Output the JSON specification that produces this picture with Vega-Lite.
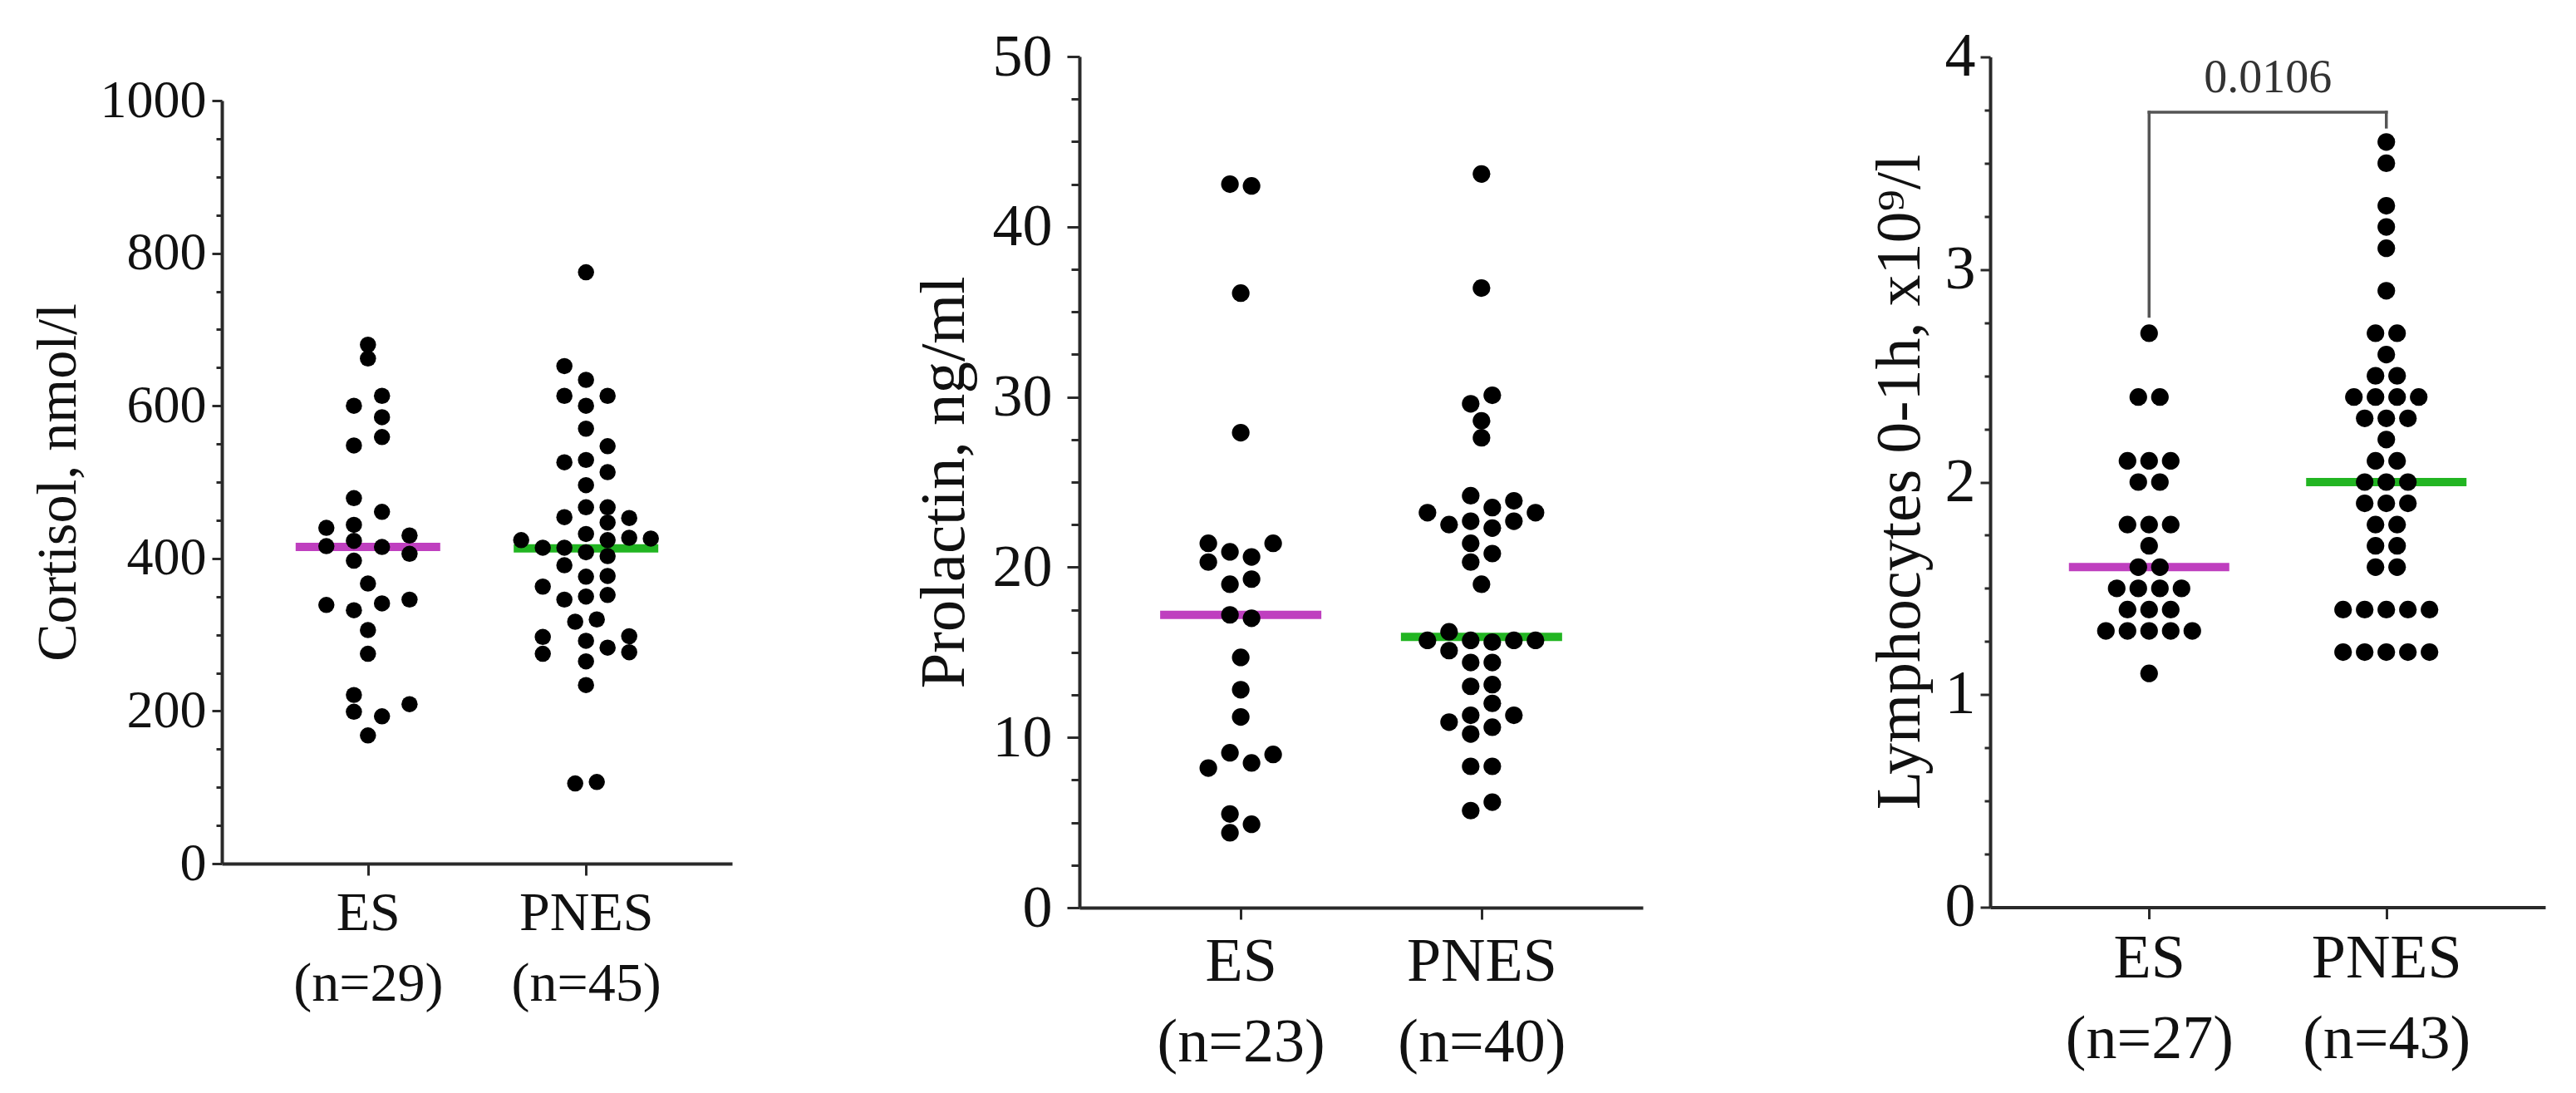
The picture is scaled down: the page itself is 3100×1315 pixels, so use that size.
{
  "$schema": "https://vega.github.io/schema/vega-lite/v6.json",
  "background": "white",
  "padding": {"left": 36, "top": 31, "right": 10, "bottom": 10},
  "autosize": {"type": "pad"},
  "bounds": "flush",
  "center": true,
  "spacing": 418,
  "config": {
    "view": {"stroke": null},
    "font": "Liberation Serif",
    "axis": {
      "domainColor": "#2a2a2a", "domainWidth": 4, "tickColor": "#2a2a2a", "tickWidth": 3,
      "labelColor": "#111111", "titleColor": "#111111", "labelFont": "Liberation Serif", "titleFont": "Liberation Serif",
      "titleFontWeight": "normal", "grid": false, "labelOverlap": false, "labelFlush": false, "labelLimit": 0
    }
  },
  "datasets": {
    "cortisol": [
      {"g": "ES", "v": 680, "slot": 0}, {"g": "ES", "v": 662, "slot": 0}, {"g": "ES", "v": 613, "slot": 1.3},
      {"g": "ES", "v": 600, "slot": -1.3}, {"g": "ES", "v": 585, "slot": 1.3}, {"g": "ES", "v": 559, "slot": 1.3},
      {"g": "ES", "v": 548, "slot": -1.3}, {"g": "ES", "v": 479, "slot": -1.3}, {"g": "ES", "v": 461, "slot": 1.3},
      {"g": "ES", "v": 440, "slot": -3.85}, {"g": "ES", "v": 444, "slot": -1.3}, {"g": "ES", "v": 416, "slot": -3.85},
      {"g": "ES", "v": 423, "slot": -1.3}, {"g": "ES", "v": 397, "slot": -1.3}, {"g": "ES", "v": 415, "slot": 1.3},
      {"g": "ES", "v": 430, "slot": 3.85}, {"g": "ES", "v": 406, "slot": 3.85}, {"g": "ES", "v": 367, "slot": 0},
      {"g": "ES", "v": 339, "slot": -3.85}, {"g": "ES", "v": 332, "slot": -1.3}, {"g": "ES", "v": 341, "slot": 1.3},
      {"g": "ES", "v": 346, "slot": 3.85}, {"g": "ES", "v": 306, "slot": 0}, {"g": "ES", "v": 275, "slot": 0},
      {"g": "ES", "v": 221, "slot": -1.3}, {"g": "ES", "v": 199, "slot": -1.3}, {"g": "ES", "v": 193, "slot": 1.3},
      {"g": "ES", "v": 209, "slot": 3.85}, {"g": "ES", "v": 168, "slot": 0},
      {"g": "PNES", "v": 775, "slot": 0}, {"g": "PNES", "v": 652, "slot": -2}, {"g": "PNES", "v": 634, "slot": 0},
      {"g": "PNES", "v": 613, "slot": -2}, {"g": "PNES", "v": 613, "slot": 2}, {"g": "PNES", "v": 600, "slot": 0},
      {"g": "PNES", "v": 570, "slot": 0}, {"g": "PNES", "v": 547, "slot": 2}, {"g": "PNES", "v": 526, "slot": -2},
      {"g": "PNES", "v": 529, "slot": 0}, {"g": "PNES", "v": 513, "slot": 2}, {"g": "PNES", "v": 496, "slot": 0},
      {"g": "PNES", "v": 467, "slot": 0}, {"g": "PNES", "v": 467, "slot": 2}, {"g": "PNES", "v": 447, "slot": 2},
      {"g": "PNES", "v": 454, "slot": -2}, {"g": "PNES", "v": 453, "slot": 4}, {"g": "PNES", "v": 432, "slot": 0},
      {"g": "PNES", "v": 424, "slot": 2}, {"g": "PNES", "v": 427, "slot": 4}, {"g": "PNES", "v": 426, "slot": 6},
      {"g": "PNES", "v": 424, "slot": -6}, {"g": "PNES", "v": 414, "slot": -4}, {"g": "PNES", "v": 414, "slot": -2},
      {"g": "PNES", "v": 408, "slot": 0}, {"g": "PNES", "v": 403, "slot": 2}, {"g": "PNES", "v": 391, "slot": -2},
      {"g": "PNES", "v": 377, "slot": 2}, {"g": "PNES", "v": 376, "slot": 0}, {"g": "PNES", "v": 363, "slot": -4},
      {"g": "PNES", "v": 346, "slot": -2}, {"g": "PNES", "v": 350, "slot": 0}, {"g": "PNES", "v": 352, "slot": 2},
      {"g": "PNES", "v": 317, "slot": -1}, {"g": "PNES", "v": 320, "slot": 1}, {"g": "PNES", "v": 297, "slot": -4},
      {"g": "PNES", "v": 275, "slot": -4}, {"g": "PNES", "v": 292, "slot": 0}, {"g": "PNES", "v": 283, "slot": 2},
      {"g": "PNES", "v": 298, "slot": 4}, {"g": "PNES", "v": 277, "slot": 4}, {"g": "PNES", "v": 265, "slot": 0},
      {"g": "PNES", "v": 234, "slot": 0}, {"g": "PNES", "v": 105, "slot": -1}, {"g": "PNES", "v": 107, "slot": 1}
    ],
    "cortisolMed": [{"g": "ES", "v": 415}, {"g": "PNES", "v": 413}],
    "prolactin": [
      {"g": "ES", "v": 42.5, "slot": -1}, {"g": "ES", "v": 42.4, "slot": 1}, {"g": "ES", "v": 36.1, "slot": 0},
      {"g": "ES", "v": 27.9, "slot": 0}, {"g": "ES", "v": 21.4, "slot": -3}, {"g": "ES", "v": 20.3, "slot": -3},
      {"g": "ES", "v": 20.9, "slot": -1}, {"g": "ES", "v": 20.6, "slot": 1}, {"g": "ES", "v": 21.4, "slot": 3},
      {"g": "ES", "v": 19.0, "slot": -1}, {"g": "ES", "v": 19.3, "slot": 1}, {"g": "ES", "v": 17.2, "slot": -1},
      {"g": "ES", "v": 17.0, "slot": 1}, {"g": "ES", "v": 14.7, "slot": 0}, {"g": "ES", "v": 12.8, "slot": 0},
      {"g": "ES", "v": 11.2, "slot": 0}, {"g": "ES", "v": 9.1, "slot": -1}, {"g": "ES", "v": 9.0, "slot": 3},
      {"g": "ES", "v": 8.2, "slot": -3}, {"g": "ES", "v": 8.5, "slot": 1}, {"g": "ES", "v": 5.5, "slot": -1},
      {"g": "ES", "v": 4.4, "slot": -1}, {"g": "ES", "v": 4.9, "slot": 1},
      {"g": "PNES", "v": 43.1, "slot": 0}, {"g": "PNES", "v": 36.4, "slot": 0}, {"g": "PNES", "v": 29.6, "slot": -1},
      {"g": "PNES", "v": 30.1, "slot": 1}, {"g": "PNES", "v": 28.6, "slot": 0}, {"g": "PNES", "v": 27.6, "slot": 0},
      {"g": "PNES", "v": 23.2, "slot": -5}, {"g": "PNES", "v": 22.5, "slot": -3}, {"g": "PNES", "v": 24.2, "slot": -1},
      {"g": "PNES", "v": 22.7, "slot": -1}, {"g": "PNES", "v": 21.4, "slot": -1}, {"g": "PNES", "v": 20.3, "slot": -1},
      {"g": "PNES", "v": 23.5, "slot": 1}, {"g": "PNES", "v": 22.3, "slot": 1}, {"g": "PNES", "v": 20.8, "slot": 1},
      {"g": "PNES", "v": 23.9, "slot": 3}, {"g": "PNES", "v": 22.7, "slot": 3}, {"g": "PNES", "v": 23.2, "slot": 5},
      {"g": "PNES", "v": 19.0, "slot": 0}, {"g": "PNES", "v": 15.7, "slot": -5}, {"g": "PNES", "v": 16.2, "slot": -3},
      {"g": "PNES", "v": 15.7, "slot": -1}, {"g": "PNES", "v": 15.6, "slot": 1}, {"g": "PNES", "v": 15.7, "slot": 3},
      {"g": "PNES", "v": 15.7, "slot": 5}, {"g": "PNES", "v": 15.1, "slot": -3}, {"g": "PNES", "v": 14.4, "slot": -1},
      {"g": "PNES", "v": 14.4, "slot": 1}, {"g": "PNES", "v": 13.0, "slot": -1}, {"g": "PNES", "v": 13.1, "slot": 1},
      {"g": "PNES", "v": 11.3, "slot": -1}, {"g": "PNES", "v": 12.0, "slot": 1}, {"g": "PNES", "v": 10.9, "slot": -3},
      {"g": "PNES", "v": 11.3, "slot": 3}, {"g": "PNES", "v": 10.2, "slot": -1}, {"g": "PNES", "v": 10.6, "slot": 1},
      {"g": "PNES", "v": 8.3, "slot": -1}, {"g": "PNES", "v": 8.3, "slot": 1}, {"g": "PNES", "v": 5.7, "slot": -1},
      {"g": "PNES", "v": 6.2, "slot": 1}
    ],
    "prolactinMed": [{"g": "ES", "v": 17.2}, {"g": "PNES", "v": 15.9}],
    "lymph": [
      {"g": "ES", "v": 2.7, "slot": 0},
      {"g": "ES", "v": 2.4, "slot": -1}, {"g": "ES", "v": 2.4, "slot": 1},
      {"g": "ES", "v": 2.1, "slot": -2}, {"g": "ES", "v": 2.1, "slot": 0}, {"g": "ES", "v": 2.1, "slot": 2},
      {"g": "ES", "v": 2.0, "slot": -1}, {"g": "ES", "v": 2.0, "slot": 1},
      {"g": "ES", "v": 1.8, "slot": -2}, {"g": "ES", "v": 1.8, "slot": 0}, {"g": "ES", "v": 1.8, "slot": 2},
      {"g": "ES", "v": 1.7, "slot": 0},
      {"g": "ES", "v": 1.6, "slot": -1}, {"g": "ES", "v": 1.6, "slot": 1},
      {"g": "ES", "v": 1.5, "slot": -3}, {"g": "ES", "v": 1.5, "slot": -1}, {"g": "ES", "v": 1.5, "slot": 1}, {"g": "ES", "v": 1.5, "slot": 3},
      {"g": "ES", "v": 1.4, "slot": -2}, {"g": "ES", "v": 1.4, "slot": 0}, {"g": "ES", "v": 1.4, "slot": 2},
      {"g": "ES", "v": 1.3, "slot": -4}, {"g": "ES", "v": 1.3, "slot": -2}, {"g": "ES", "v": 1.3, "slot": 0}, {"g": "ES", "v": 1.3, "slot": 2}, {"g": "ES", "v": 1.3, "slot": 4},
      {"g": "ES", "v": 1.1, "slot": 0},
      {"g": "PNES", "v": 3.6, "slot": 0}, {"g": "PNES", "v": 3.5, "slot": 0}, {"g": "PNES", "v": 3.3, "slot": 0},
      {"g": "PNES", "v": 3.2, "slot": 0}, {"g": "PNES", "v": 3.1, "slot": 0}, {"g": "PNES", "v": 2.9, "slot": 0},
      {"g": "PNES", "v": 2.7, "slot": -1}, {"g": "PNES", "v": 2.7, "slot": 1},
      {"g": "PNES", "v": 2.6, "slot": 0},
      {"g": "PNES", "v": 2.5, "slot": -1}, {"g": "PNES", "v": 2.5, "slot": 1},
      {"g": "PNES", "v": 2.4, "slot": -3}, {"g": "PNES", "v": 2.4, "slot": -1}, {"g": "PNES", "v": 2.4, "slot": 1}, {"g": "PNES", "v": 2.4, "slot": 3},
      {"g": "PNES", "v": 2.3, "slot": -2}, {"g": "PNES", "v": 2.3, "slot": 0}, {"g": "PNES", "v": 2.3, "slot": 2},
      {"g": "PNES", "v": 2.2, "slot": 0},
      {"g": "PNES", "v": 2.1, "slot": -1}, {"g": "PNES", "v": 2.1, "slot": 1},
      {"g": "PNES", "v": 2.0, "slot": -2}, {"g": "PNES", "v": 2.0, "slot": 0}, {"g": "PNES", "v": 2.0, "slot": 2},
      {"g": "PNES", "v": 1.9, "slot": -2}, {"g": "PNES", "v": 1.9, "slot": 0}, {"g": "PNES", "v": 1.9, "slot": 2},
      {"g": "PNES", "v": 1.8, "slot": -1}, {"g": "PNES", "v": 1.8, "slot": 1},
      {"g": "PNES", "v": 1.7, "slot": -1}, {"g": "PNES", "v": 1.7, "slot": 1},
      {"g": "PNES", "v": 1.6, "slot": -1}, {"g": "PNES", "v": 1.6, "slot": 1},
      {"g": "PNES", "v": 1.4, "slot": -4}, {"g": "PNES", "v": 1.4, "slot": -2}, {"g": "PNES", "v": 1.4, "slot": 0}, {"g": "PNES", "v": 1.4, "slot": 2}, {"g": "PNES", "v": 1.4, "slot": 4},
      {"g": "PNES", "v": 1.2, "slot": -4}, {"g": "PNES", "v": 1.2, "slot": -2}, {"g": "PNES", "v": 1.2, "slot": 0}, {"g": "PNES", "v": 1.2, "slot": 2}, {"g": "PNES", "v": 1.2, "slot": 4}
    ],
    "lymphMed": [{"g": "ES", "v": 1.6}, {"g": "PNES", "v": 2.0}],
    "bracket": [
      {"a": "ES", "b": "PNES", "y1": 3.74, "y2": 3.74},
      {"a": "ES", "b": "ES", "y1": 3.74, "y2": 2.78},
      {"a": "PNES", "b": "PNES", "y1": 3.74, "y2": 3.67}
    ],
    "pvalue": [{"g": "ES", "v": 3.9, "label": "0.0106"}]
  },
  "hconcat": [
    {
      "width": 614,
      "height": 918,
      "layer": [
        {
          "data": {"name": "cortisolMed"},
          "mark": {"type": "tick", "size": 174, "thickness": 10, "opacity": 1},
          "encoding": {
            "x": {"field": "g", "type": "nominal", "scale": {"type": "point", "domain": ["ES", "PNES"], "padding": 0.67},
                  "axis": {"title": null, "labelAngle": 0, "labelExpr": "datum.value === 'ES' ? ['ES', '(n=29)'] : ['PNES', '(n=45)']",
                           "labelFontSize": 66, "labelLineHeight": 85, "labelPadding": 13, "tickSize": 14}},
            "y": {"field": "v", "type": "quantitative", "scale": {"domain": [0, 1000], "nice": false},
                  "axis": {"title": "Cortisol, nmol/l", "values": [0,50,100,150,200,250,300,350,400,450,500,550,600,650,700,750,800,850,900,950,1000],
                           "labelExpr": "datum.value % 200 === 0 ? format(datum.value, 'd') : ''",
                           "tickSize": {"condition": {"test": "datum.value % 200 === 0", "value": 12}, "value": 7},
                           "labelFontSize": 64, "labelPadding": 7, "titleFontSize": 68, "titleX": -197, "titleY": 459, "titleBaseline": "middle", "titleAlign": "center"}},
            "color": {"field": "g", "type": "nominal", "scale": {"domain": ["ES", "PNES"], "range": ["#bf3fbf", "#22b522"]}, "legend": null}
          }
        },
        {
          "data": {"name": "cortisol"},
          "mark": {"type": "circle", "size": 380, "opacity": 1, "color": "#000000"},
          "encoding": {
            "x": {"field": "g", "type": "nominal"},
            "xOffset": {"field": "slot", "type": "quantitative", "scale": {"domain": [-10, 10], "range": [-130, 130]}},
            "y": {"field": "v", "type": "quantitative"}
          }
        }
      ]
    },
    {
      "width": 678,
      "height": 1024,
      "layer": [
        {
          "data": {"name": "prolactinMed"},
          "mark": {"type": "tick", "size": 194, "thickness": 10, "opacity": 1},
          "encoding": {
            "x": {"field": "g", "type": "nominal", "scale": {"type": "point", "domain": ["ES", "PNES"], "padding": 0.67},
                  "axis": {"title": null, "labelAngle": 0, "labelExpr": "datum.value === 'ES' ? ['ES', '(n=23)'] : ['PNES', '(n=40)']",
                           "labelFontSize": 74, "labelLineHeight": 97, "labelPadding": 15, "tickSize": 14}},
            "y": {"field": "v", "type": "quantitative", "scale": {"domain": [0, 50], "nice": false},
                  "axis": {"title": "Prolactin, ng/ml", "values": [0,2.5,5,7.5,10,12.5,15,17.5,20,22.5,25,27.5,30,32.5,35,37.5,40,42.5,45,47.5,50],
                           "labelExpr": "datum.value % 10 === 0 ? format(datum.value, 'd') : ''",
                           "tickSize": {"condition": {"test": "datum.value % 10 === 0", "value": 15}, "value": 10},
                           "labelFontSize": 72, "labelPadding": 18, "titleFontSize": 77, "titleX": -163, "titleY": 512, "titleBaseline": "middle", "titleAlign": "center"}},
            "color": {"field": "g", "type": "nominal", "scale": {"domain": ["ES", "PNES"], "range": ["#bf3fbf", "#22b522"]}, "legend": null}
          }
        },
        {
          "data": {"name": "prolactin"},
          "mark": {"type": "circle", "size": 450, "opacity": 1, "color": "#000000"},
          "encoding": {
            "x": {"field": "g", "type": "nominal"},
            "xOffset": {"field": "slot", "type": "quantitative", "scale": {"domain": [-10, 10], "range": [-180, 180]}},
            "y": {"field": "v", "type": "quantitative"}
          }
        }
      ]
    },
    {
      "width": 668,
      "height": 1023,
      "layer": [
        {
          "data": {"name": "lymphMed"},
          "mark": {"type": "tick", "size": 193, "thickness": 10, "opacity": 1},
          "encoding": {
            "x": {"field": "g", "type": "nominal", "scale": {"type": "point", "domain": ["ES", "PNES"], "padding": 0.67},
                  "axis": {"title": null, "labelAngle": 0, "labelExpr": "datum.value === 'ES' ? ['ES', '(n=27)'] : ['PNES', '(n=43)']",
                           "labelFontSize": 74, "labelLineHeight": 97, "labelPadding": 12, "tickSize": 14}},
            "y": {"field": "v", "type": "quantitative", "scale": {"domain": [0, 4], "nice": false},
                  "axis": {"title": "Lymphocytes 0-1h, x10⁹/l", "values": [0,0.25,0.5,0.75,1,1.25,1.5,1.75,2,2.25,2.5,2.75,3,3.25,3.5,3.75,4],
                           "labelExpr": "datum.value % 1 === 0 ? format(datum.value, 'd') : ''",
                           "tickSize": {"condition": {"test": "datum.value % 1 === 0", "value": 12}, "value": 7},
                           "labelFontSize": 74, "labelPadding": 6, "titleFontSize": 76, "titleX": -109, "titleY": 511, "titleBaseline": "middle", "titleAlign": "center"}},
            "color": {"field": "g", "type": "nominal", "scale": {"domain": ["ES", "PNES"], "range": ["#bf3fbf", "#22b522"]}, "legend": null}
          }
        },
        {
          "data": {"name": "lymph"},
          "mark": {"type": "circle", "size": 450, "opacity": 1, "color": "#000000"},
          "encoding": {
            "x": {"field": "g", "type": "nominal"},
            "xOffset": {"field": "slot", "type": "quantitative", "scale": {"domain": [-10, 10], "range": [-185, 185]}},
            "y": {"field": "v", "type": "quantitative"}
          }
        },
        {
          "data": {"name": "bracket"},
          "mark": {"type": "rule", "color": "#555555", "strokeWidth": 3.5, "strokeCap": "square"},
          "encoding": {
            "x": {"field": "a", "type": "nominal"},
            "x2": {"field": "b"},
            "y": {"field": "y1", "type": "quantitative"},
            "y2": {"field": "y2"}
          }
        },
        {
          "data": {"name": "pvalue"},
          "mark": {"type": "text", "font": "Liberation Serif", "fontSize": 56, "color": "#333333", "dx": 143, "align": "center", "baseline": "middle"},
          "encoding": {
            "x": {"field": "g", "type": "nominal"},
            "y": {"field": "v", "type": "quantitative"},
            "text": {"field": "label"}
          }
        }
      ]
    }
  ]
}
